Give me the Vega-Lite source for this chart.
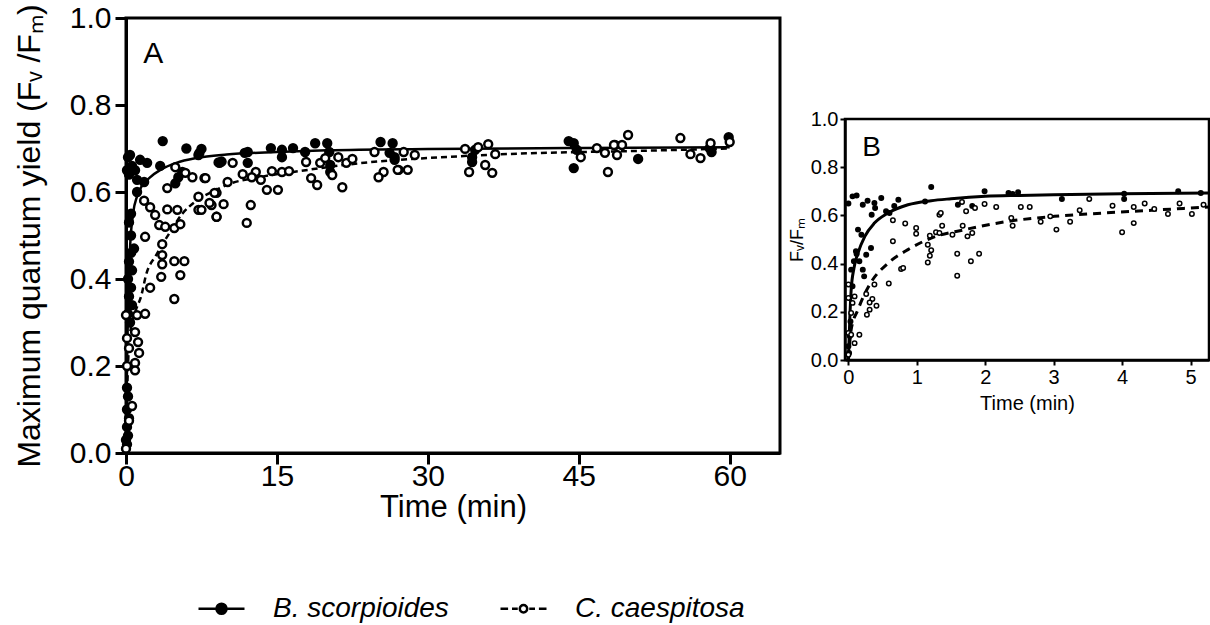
{
  "$schema": "https://vega.github.io/schema/vega-lite/v6.json",
  "padding": {"top": 1, "left": 11, "right": 0, "bottom": 5},
  "background": "white",
  "config": {
    "font": "Liberation Sans",
    "view": {"stroke": "black"},
    "axis": {"grid": false, "domainColor": "black", "tickColor": "black", "labelColor": "black", "titleColor": "black", "labelFont": "Liberation Sans", "titleFont": "Liberation Sans", "titleFontWeight": "normal"},
    "legend": {"title": null, "orient": "none", "legendX": 71, "legendY": 566, "direction": "horizontal", "padding": 0, "labelFont": "Liberation Sans", "labelFontSize": 28, "labelFontStyle": "italic", "labelColor": "black", "labelOffset": 27, "labelLimit": 500, "columnPadding": 46, "symbolSize": 2116, "symbolStrokeWidth": 2.5, "symbolOpacity": 1},
    "text": {"font": "Liberation Sans"}
  },
  "datasets": {
    "a_pts": [
      {"t":0.4,"v":0.685,"species":"B. scorpioides"},{"t":1.4,"v":0.674,"species":"B. scorpioides"},{"t":2.1,"v":0.667,"species":"B. scorpioides"},{"t":0.1,"v":0.65,"species":"B. scorpioides"},{"t":0.9,"v":0.65,"species":"B. scorpioides"},{"t":3.4,"v":0.66,"species":"B. scorpioides"},{"t":3.65,"v":0.717,"species":"B. scorpioides"},{"t":6.0,"v":0.70,"species":"B. scorpioides"},{"t":7.3,"v":0.69,"species":"B. scorpioides"},{"t":7.2,"v":0.685,"species":"B. scorpioides"},{"t":1.1,"v":0.628,"species":"B. scorpioides"},{"t":1.8,"v":0.623,"species":"B. scorpioides"},{"t":1.1,"v":0.60,"species":"B. scorpioides"},{"t":5.6,"v":0.646,"species":"B. scorpioides"},{"t":5.2,"v":0.634,"species":"B. scorpioides"},{"t":4.9,"v":0.62,"species":"B. scorpioides"},{"t":9.2,"v":0.668,"species":"B. scorpioides"},{"t":0.2,"v":0.68,"species":"B. scorpioides"},{"t":0.6,"v":0.66,"species":"B. scorpioides"},{"t":0.3,"v":0.64,"species":"B. scorpioides"},
      {"t":0.5,"v":0.55,"species":"B. scorpioides"},{"t":0.3,"v":0.53,"species":"B. scorpioides"},{"t":0.5,"v":0.5,"species":"B. scorpioides"},{"t":0.8,"v":0.47,"species":"B. scorpioides"},{"t":0.5,"v":0.46,"species":"B. scorpioides"},{"t":0.3,"v":0.44,"species":"B. scorpioides"},{"t":0.6,"v":0.42,"species":"B. scorpioides"},{"t":0.2,"v":0.40,"species":"B. scorpioides"},{"t":0.5,"v":0.38,"species":"B. scorpioides"},{"t":0.3,"v":0.36,"species":"B. scorpioides"},{"t":0.6,"v":0.34,"species":"B. scorpioides"},{"t":0.2,"v":0.32,"species":"B. scorpioides"},{"t":0.4,"v":0.30,"species":"B. scorpioides"},{"t":0.1,"v":0.15,"species":"B. scorpioides"},{"t":0.2,"v":0.13,"species":"B. scorpioides"},{"t":0.1,"v":0.10,"species":"B. scorpioides"},{"t":0.3,"v":0.08,"species":"B. scorpioides"},{"t":0.1,"v":0.06,"species":"B. scorpioides"},{"t":0.2,"v":0.04,"species":"B. scorpioides"},{"t":0.0,"v":0.03,"species":"B. scorpioides"},{"t":0.1,"v":0.02,"species":"B. scorpioides"},
      {"t":7.5,"v":0.699,"species":"B. scorpioides"},{"t":9.3,"v":0.667,"species":"B. scorpioides"},{"t":12.1,"v":0.692,"species":"B. scorpioides"},{"t":12.1,"v":0.667,"species":"B. scorpioides"},{"t":14.4,"v":0.701,"species":"B. scorpioides"},{"t":15.5,"v":0.697,"species":"B. scorpioides"},{"t":15.5,"v":0.68,"species":"B. scorpioides"},{"t":16.6,"v":0.701,"species":"B. scorpioides"},{"t":17.8,"v":0.692,"species":"B. scorpioides"},{"t":18.8,"v":0.712,"species":"B. scorpioides"},{"t":20.0,"v":0.712,"species":"B. scorpioides"},{"t":20.2,"v":0.692,"species":"B. scorpioides"},{"t":20.3,"v":0.662,"species":"B. scorpioides"},{"t":20.3,"v":0.646,"species":"B. scorpioides"},{"t":25.3,"v":0.715,"species":"B. scorpioides"},{"t":26.5,"v":0.712,"species":"B. scorpioides"},{"t":26.2,"v":0.69,"species":"B. scorpioides"},{"t":26.7,"v":0.674,"species":"B. scorpioides"},{"t":26.7,"v":0.68,"species":"B. scorpioides"},{"t":34.4,"v":0.68,"species":"B. scorpioides"},{"t":34.7,"v":0.697,"species":"B. scorpioides"},{"t":34.4,"v":0.669,"species":"B. scorpioides"},{"t":44.0,"v":0.717,"species":"B. scorpioides"},{"t":44.5,"v":0.712,"species":"B. scorpioides"},{"t":44.5,"v":0.655,"species":"B. scorpioides"},{"t":44.8,"v":0.697,"species":"B. scorpioides"},{"t":48.6,"v":0.708,"species":"B. scorpioides"},{"t":50.9,"v":0.676,"species":"B. scorpioides"},{"t":58.0,"v":0.701,"species":"B. scorpioides"},{"t":59.9,"v":0.726,"species":"B. scorpioides"},{"t":58.2,"v":0.692,"species":"B. scorpioides"},{"t":9.5,"v":0.67,"species":"B. scorpioides"},{"t":11.8,"v":0.69,"species":"B. scorpioides"},
      {"t":4.9,"v":0.657,"species":"C. caespitosa"},{"t":5.9,"v":0.644,"species":"C. caespitosa"},{"t":6.6,"v":0.634,"species":"C. caespitosa"},{"t":7.8,"v":0.632,"species":"C. caespitosa"},{"t":4.1,"v":0.609,"species":"C. caespitosa"},{"t":1.8,"v":0.58,"species":"C. caespitosa"},{"t":2.4,"v":0.565,"species":"C. caespitosa"},{"t":4.1,"v":0.56,"species":"C. caespitosa"},{"t":5.1,"v":0.559,"species":"C. caespitosa"},{"t":2.9,"v":0.547,"species":"C. caespitosa"},{"t":7.2,"v":0.589,"species":"C. caespitosa"},{"t":7.2,"v":0.559,"species":"C. caespitosa"},{"t":8.5,"v":0.57,"species":"C. caespitosa"},{"t":9.0,"v":0.598,"species":"C. caespitosa"},{"t":9.0,"v":0.543,"species":"C. caespitosa"},{"t":3.3,"v":0.524,"species":"C. caespitosa"},{"t":3.9,"v":0.52,"species":"C. caespitosa"},{"t":4.8,"v":0.517,"species":"C. caespitosa"},{"t":5.4,"v":0.526,"species":"C. caespitosa"},{"t":1.9,"v":0.497,"species":"C. caespitosa"},{"t":3.6,"v":0.48,"species":"C. caespitosa"},{"t":3.6,"v":0.455,"species":"C. caespitosa"},{"t":3.6,"v":0.434,"species":"C. caespitosa"},{"t":4.8,"v":0.441,"species":"C. caespitosa"},{"t":5.8,"v":0.441,"species":"C. caespitosa"},{"t":3.5,"v":0.405,"species":"C. caespitosa"},{"t":5.4,"v":0.409,"species":"C. caespitosa"},{"t":2.4,"v":0.38,"species":"C. caespitosa"},{"t":4.8,"v":0.354,"species":"C. caespitosa"},{"t":0.0,"v":0.317,"species":"C. caespitosa"},{"t":1.1,"v":0.317,"species":"C. caespitosa"},{"t":1.9,"v":0.32,"species":"C. caespitosa"},{"t":0.9,"v":0.278,"species":"C. caespitosa"},{"t":0.1,"v":0.264,"species":"C. caespitosa"},{"t":1.2,"v":0.255,"species":"C. caespitosa"},{"t":0.3,"v":0.241,"species":"C. caespitosa"},{"t":1.3,"v":0.23,"species":"C. caespitosa"},{"t":0.1,"v":0.2,"species":"C. caespitosa"},{"t":0.9,"v":0.207,"species":"C. caespitosa"},{"t":0.9,"v":0.19,"species":"C. caespitosa"},{"t":0.6,"v":0.108,"species":"C. caespitosa"},{"t":0.3,"v":0.074,"species":"C. caespitosa"},{"t":0.0,"v":0.01,"species":"C. caespitosa"},
      {"t":7.9,"v":0.632,"species":"C. caespitosa"},{"t":10.6,"v":0.667,"species":"C. caespitosa"},{"t":10.1,"v":0.623,"species":"C. caespitosa"},{"t":11.6,"v":0.641,"species":"C. caespitosa"},{"t":12.9,"v":0.646,"species":"C. caespitosa"},{"t":12.5,"v":0.634,"species":"C. caespitosa"},{"t":13.4,"v":0.628,"species":"C. caespitosa"},{"t":14.0,"v":0.605,"species":"C. caespitosa"},{"t":15.1,"v":0.605,"species":"C. caespitosa"},{"t":14.5,"v":0.648,"species":"C. caespitosa"},{"t":15.5,"v":0.646,"species":"C. caespitosa"},{"t":16.2,"v":0.648,"species":"C. caespitosa"},{"t":17.9,"v":0.669,"species":"C. caespitosa"},{"t":18.4,"v":0.632,"species":"C. caespitosa"},{"t":19.0,"v":0.616,"species":"C. caespitosa"},{"t":19.3,"v":0.667,"species":"C. caespitosa"},{"t":19.8,"v":0.678,"species":"C. caespitosa"},{"t":20.5,"v":0.639,"species":"C. caespitosa"},{"t":21.1,"v":0.68,"species":"C. caespitosa"},{"t":21.9,"v":0.667,"species":"C. caespitosa"},{"t":22.5,"v":0.676,"species":"C. caespitosa"},{"t":21.5,"v":0.611,"species":"C. caespitosa"},{"t":24.7,"v":0.692,"species":"C. caespitosa"},{"t":25.6,"v":0.646,"species":"C. caespitosa"},{"t":25.1,"v":0.634,"species":"C. caespitosa"},{"t":27.1,"v":0.651,"species":"C. caespitosa"},{"t":8.8,"v":0.598,"species":"C. caespitosa"},{"t":8.3,"v":0.575,"species":"C. caespitosa"},{"t":9.7,"v":0.572,"species":"C. caespitosa"},{"t":7.5,"v":0.559,"species":"C. caespitosa"},{"t":12.4,"v":0.57,"species":"C. caespitosa"},{"t":9.0,"v":0.543,"species":"C. caespitosa"},{"t":12.0,"v":0.529,"species":"C. caespitosa"},{"t":27.6,"v":0.692,"species":"C. caespitosa"},{"t":28.7,"v":0.685,"species":"C. caespitosa"},{"t":27.0,"v":0.651,"species":"C. caespitosa"},{"t":28.0,"v":0.651,"species":"C. caespitosa"},{"t":33.7,"v":0.699,"species":"C. caespitosa"},{"t":35.0,"v":0.703,"species":"C. caespitosa"},{"t":36.0,"v":0.71,"species":"C. caespitosa"},{"t":36.7,"v":0.687,"species":"C. caespitosa"},{"t":34.1,"v":0.646,"species":"C. caespitosa"},{"t":35.7,"v":0.662,"species":"C. caespitosa"},{"t":36.4,"v":0.644,"species":"C. caespitosa"},{"t":45.2,"v":0.68,"species":"C. caespitosa"},{"t":46.8,"v":0.701,"species":"C. caespitosa"},{"t":47.6,"v":0.69,"species":"C. caespitosa"},{"t":47.9,"v":0.646,"species":"C. caespitosa"},{"t":48.5,"v":0.708,"species":"C. caespitosa"},{"t":49.3,"v":0.708,"species":"C. caespitosa"},{"t":49.9,"v":0.731,"species":"C. caespitosa"},{"t":48.8,"v":0.685,"species":"C. caespitosa"},{"t":55.1,"v":0.724,"species":"C. caespitosa"},{"t":56.1,"v":0.687,"species":"C. caespitosa"},{"t":57.1,"v":0.678,"species":"C. caespitosa"},{"t":58.1,"v":0.712,"species":"C. caespitosa"},{"t":60.0,"v":0.715,"species":"C. caespitosa"}
    ],
    "a_fit": [
      {"t":0,"v":0,"species":"B. scorpioides"},{"t":0.1,"v":0.2,"species":"B. scorpioides"},{"t":0.2,"v":0.33,"species":"B. scorpioides"},{"t":0.4,"v":0.47,"species":"B. scorpioides"},{"t":0.7,"v":0.55,"species":"B. scorpioides"},{"t":1.1,"v":0.59,"species":"B. scorpioides"},{"t":1.6,"v":0.615,"species":"B. scorpioides"},{"t":2.3,"v":0.632,"species":"B. scorpioides"},{"t":3.5,"v":0.652,"species":"B. scorpioides"},{"t":5,"v":0.667,"species":"B. scorpioides"},{"t":7,"v":0.678,"species":"B. scorpioides"},{"t":10,"v":0.686,"species":"B. scorpioides"},{"t":15,"v":0.692,"species":"B. scorpioides"},{"t":20,"v":0.696,"species":"B. scorpioides"},{"t":30,"v":0.699,"species":"B. scorpioides"},{"t":45,"v":0.701,"species":"B. scorpioides"},{"t":60,"v":0.703,"species":"B. scorpioides"},
      {"t":0,"v":0.05,"species":"C. caespitosa"},{"t":0.3,"v":0.25,"species":"C. caespitosa"},{"t":0.6,"v":0.30,"species":"C. caespitosa"},{"t":1,"v":0.33,"species":"C. caespitosa"},{"t":1.5,"v":0.36,"species":"C. caespitosa"},{"t":2,"v":0.41,"species":"C. caespitosa"},{"t":3,"v":0.455,"species":"C. caespitosa"},{"t":4.3,"v":0.505,"species":"C. caespitosa"},{"t":5.6,"v":0.55,"species":"C. caespitosa"},{"t":7,"v":0.58,"species":"C. caespitosa"},{"t":8.8,"v":0.603,"species":"C. caespitosa"},{"t":10.2,"v":0.618,"species":"C. caespitosa"},{"t":13,"v":0.633,"species":"C. caespitosa"},{"t":17.2,"v":0.648,"species":"C. caespitosa"},{"t":24,"v":0.668,"species":"C. caespitosa"},{"t":30,"v":0.678,"species":"C. caespitosa"},{"t":40,"v":0.689,"species":"C. caespitosa"},{"t":50,"v":0.694,"species":"C. caespitosa"},{"t":60,"v":0.70,"species":"C. caespitosa"}
    ],
    "b_pts": [
      {"t":0,"v":0.649,"species":"B. scorpioides"},{"t":0.06,"v":0.679,"species":"B. scorpioides"},{"t":0.12,"v":0.683,"species":"B. scorpioides"},{"t":0.21,"v":0.644,"species":"B. scorpioides"},{"t":0.28,"v":0.661,"species":"B. scorpioides"},{"t":0.38,"v":0.651,"species":"B. scorpioides"},{"t":0.39,"v":0.631,"species":"B. scorpioides"},{"t":0.34,"v":0.603,"species":"B. scorpioides"},{"t":0.48,"v":0.672,"species":"B. scorpioides"},{"t":0.55,"v":0.617,"species":"B. scorpioides"},{"t":0.6,"v":0.61,"species":"B. scorpioides"},{"t":0.67,"v":0.639,"species":"B. scorpioides"},{"t":0.73,"v":0.665,"species":"B. scorpioides"},{"t":0.14,"v":0.541,"species":"B. scorpioides"},{"t":0.19,"v":0.52,"species":"B. scorpioides"},{"t":0.11,"v":0.451,"species":"B. scorpioides"},{"t":0.16,"v":0.41,"species":"B. scorpioides"},{"t":0.26,"v":0.437,"species":"B. scorpioides"},{"t":0.33,"v":0.465,"species":"B. scorpioides"},{"t":0.21,"v":0.375,"species":"B. scorpioides"},{"t":0.23,"v":0.347,"species":"B. scorpioides"},{"t":0.06,"v":0.306,"species":"B. scorpioides"},{"t":0.04,"v":0.375,"species":"B. scorpioides"},{"t":0,"v":0.057,"species":"B. scorpioides"},{"t":0.01,"v":0.029,"species":"B. scorpioides"},{"t":0.02,"v":0.1,"species":"B. scorpioides"},{"t":0.03,"v":0.16,"species":"B. scorpioides"},{"t":0.08,"v":0.41,"species":"B. scorpioides"},{"t":0.12,"v":0.44,"species":"B. scorpioides"},{"t":1.21,"v":0.718,"species":"B. scorpioides"},{"t":1.12,"v":0.658,"species":"B. scorpioides"},{"t":1.6,"v":0.644,"species":"B. scorpioides"},{"t":1.99,"v":0.7,"species":"B. scorpioides"},{"t":1.81,"v":0.639,"species":"B. scorpioides"},{"t":2.34,"v":0.693,"species":"B. scorpioides"},{"t":2.4,"v":0.689,"species":"B. scorpioides"},{"t":2.48,"v":0.696,"species":"B. scorpioides"},{"t":3.12,"v":0.668,"species":"B. scorpioides"},{"t":4.03,"v":0.668,"species":"B. scorpioides"},{"t":4.03,"v":0.69,"species":"B. scorpioides"},{"t":4.82,"v":0.7,"species":"B. scorpioides"},{"t":5.15,"v":0.693,"species":"B. scorpioides"},
      {"t":0,"v":0.313,"species":"C. caespitosa"},{"t":0,"v":0.257,"species":"C. caespitosa"},{"t":0.09,"v":0.264,"species":"C. caespitosa"},{"t":0.06,"v":0.237,"species":"C. caespitosa"},{"t":0.04,"v":0.195,"species":"C. caespitosa"},{"t":0,"v":0.112,"species":"C. caespitosa"},{"t":0.04,"v":0.105,"species":"C. caespitosa"},{"t":0.16,"v":0.105,"species":"C. caespitosa"},{"t":0.09,"v":0.07,"species":"C. caespitosa"},{"t":0,"v":0.022,"species":"C. caespitosa"},{"t":0.26,"v":0.274,"species":"C. caespitosa"},{"t":0.38,"v":0.313,"species":"C. caespitosa"},{"t":0.35,"v":0.253,"species":"C. caespitosa"},{"t":0.31,"v":0.239,"species":"C. caespitosa"},{"t":0.41,"v":0.225,"species":"C. caespitosa"},{"t":0.31,"v":0.209,"species":"C. caespitosa"},{"t":0.27,"v":0.188,"species":"C. caespitosa"},{"t":0.59,"v":0.317,"species":"C. caespitosa"},{"t":0.65,"v":0.58,"species":"C. caespitosa"},{"t":0.83,"v":0.566,"species":"C. caespitosa"},{"t":0.65,"v":0.493,"species":"C. caespitosa"},{"t":0.77,"v":0.378,"species":"C. caespitosa"},{"t":0.8,"v":0.382,"species":"C. caespitosa"},{"t":0.99,"v":0.548,"species":"C. caespitosa"},{"t":0.99,"v":0.524,"species":"C. caespitosa"},{"t":1.16,"v":0.478,"species":"C. caespitosa"},{"t":1.19,"v":0.516,"species":"C. caespitosa"},{"t":1.21,"v":0.455,"species":"C. caespitosa"},{"t":1.19,"v":0.433,"species":"C. caespitosa"},{"t":1.16,"v":0.405,"species":"C. caespitosa"},{"t":1.28,"v":0.53,"species":"C. caespitosa"},{"t":1.33,"v":0.527,"species":"C. caespitosa"},{"t":1.33,"v":0.603,"species":"C. caespitosa"},{"t":1.35,"v":0.61,"species":"C. caespitosa"},{"t":1.37,"v":0.557,"species":"C. caespitosa"},{"t":1.52,"v":0.52,"species":"C. caespitosa"},{"t":1.59,"v":0.441,"species":"C. caespitosa"},{"t":1.59,"v":0.35,"species":"C. caespitosa"},{"t":1.66,"v":0.656,"species":"C. caespitosa"},{"t":1.67,"v":0.557,"species":"C. caespitosa"},{"t":1.72,"v":0.617,"species":"C. caespitosa"},{"t":1.74,"v":0.513,"species":"C. caespitosa"},{"t":1.81,"v":0.527,"species":"C. caespitosa"},{"t":1.79,"v":0.41,"species":"C. caespitosa"},{"t":1.91,"v":0.441,"species":"C. caespitosa"},{"t":1.85,"v":0.631,"species":"C. caespitosa"},{"t":1.99,"v":0.647,"species":"C. caespitosa"},{"t":2.16,"v":0.635,"species":"C. caespitosa"},{"t":2.52,"v":0.635,"species":"C. caespitosa"},{"t":2.65,"v":0.635,"species":"C. caespitosa"},{"t":2.38,"v":0.589,"species":"C. caespitosa"},{"t":2.4,"v":0.557,"species":"C. caespitosa"},{"t":2.81,"v":0.574,"species":"C. caespitosa"},{"t":2.95,"v":0.596,"species":"C. caespitosa"},{"t":3.04,"v":0.541,"species":"C. caespitosa"},{"t":3.24,"v":0.574,"species":"C. caespitosa"},{"t":3.38,"v":0.621,"species":"C. caespitosa"},{"t":3.52,"v":0.668,"species":"C. caespitosa"},{"t":3.86,"v":0.64,"species":"C. caespitosa"},{"t":4.0,"v":0.53,"species":"C. caespitosa"},{"t":4.17,"v":0.635,"species":"C. caespitosa"},{"t":4.17,"v":0.568,"species":"C. caespitosa"},{"t":4.33,"v":0.649,"species":"C. caespitosa"},{"t":4.47,"v":0.627,"species":"C. caespitosa"},{"t":4.67,"v":0.606,"species":"C. caespitosa"},{"t":4.84,"v":0.649,"species":"C. caespitosa"},{"t":5.02,"v":0.606,"species":"C. caespitosa"},{"t":5.19,"v":0.644,"species":"C. caespitosa"}
    ],
    "b_fit": [
      {"t":0,"v":0,"species":"B. scorpioides"},{"t":0.02,"v":0.17,"species":"B. scorpioides"},{"t":0.04,"v":0.29,"species":"B. scorpioides"},{"t":0.08,"v":0.38,"species":"B. scorpioides"},{"t":0.14,"v":0.444,"species":"B. scorpioides"},{"t":0.24,"v":0.513,"species":"B. scorpioides"},{"t":0.38,"v":0.568,"species":"B. scorpioides"},{"t":0.58,"v":0.61,"species":"B. scorpioides"},{"t":0.87,"v":0.644,"species":"B. scorpioides"},{"t":1.21,"v":0.661,"species":"B. scorpioides"},{"t":1.5,"v":0.669,"species":"B. scorpioides"},{"t":2,"v":0.679,"species":"B. scorpioides"},{"t":2.5,"v":0.683,"species":"B. scorpioides"},{"t":3,"v":0.686,"species":"B. scorpioides"},{"t":4,"v":0.69,"species":"B. scorpioides"},{"t":5.27,"v":0.693,"species":"B. scorpioides"},
      {"t":0,"v":0,"species":"C. caespitosa"},{"t":0.04,"v":0.126,"species":"C. caespitosa"},{"t":0.14,"v":0.209,"species":"C. caespitosa"},{"t":0.31,"v":0.313,"species":"C. caespitosa"},{"t":0.58,"v":0.402,"species":"C. caespitosa"},{"t":0.87,"v":0.458,"species":"C. caespitosa"},{"t":1.21,"v":0.506,"species":"C. caespitosa"},{"t":1.7,"v":0.541,"species":"C. caespitosa"},{"t":2.33,"v":0.575,"species":"C. caespitosa"},{"t":3.01,"v":0.596,"species":"C. caespitosa"},{"t":3.74,"v":0.61,"species":"C. caespitosa"},{"t":4.47,"v":0.622,"species":"C. caespitosa"},{"t":5.27,"v":0.635,"species":"C. caespitosa"}
    ],
    "a_lab": [{"t":2.7,"v":0.917,"label":"A"}],
    "b_lab": [{"t":0.34,"v":0.88,"label":"B"}]
  },
  "spacing": 4,
  "hconcat": [
    {
      "width": 654,
      "height": 435,
      "view": {"stroke": "black", "strokeWidth": 3},
      "encoding": {
        "x": {"field": "t", "type": "quantitative", "scale": {"domain": [0, 65], "nice": false, "zero": false},
          "axis": {"values": [0, 15, 30, 45, 60], "title": "Time (min)", "titleFontSize": 31, "titlePadding": 1, "labelFontSize": 30, "labelPadding": -3, "tickSize": 11, "tickWidth": 3, "domainWidth": 3, "labelFlush": false}},
        "y": {"field": "v", "type": "quantitative", "scale": {"domain": [0, 1], "nice": false},
          "axis": {"values": [0, 0.2, 0.4, 0.6, 0.8, 1.0], "format": ".1f", "title": "Maximum quantum yield (Fᵥ /Fₘ)", "titleFontSize": 32, "titlePadding": 23, "labelFontSize": 30, "labelPadding": 4, "tickSize": 11, "tickWidth": 3, "domainWidth": 3, "labelFlush": false}}
      },
      "layer": [
        {
          "data": {"name": "a_fit"},
          "transform": [{"filter": "datum.species === 'B. scorpioides'"}],
          "mark": {"type": "line", "color": "black", "strokeWidth": 2.5, "interpolate": "monotone"},
          "encoding": {}
        },
        {
          "data": {"name": "a_fit"},
          "transform": [{"filter": "datum.species === 'C. caespitosa'"}],
          "mark": {"type": "line", "color": "black", "strokeWidth": 2.5, "strokeDash": [6, 4], "interpolate": "monotone"},
          "encoding": {}
        },
        {
          "data": {"name": "a_pts"},
          "transform": [{"filter": "datum.species === 'B. scorpioides'"}],
          "mark": {"type": "point", "shape": "circle", "size": 62, "fill": "black", "stroke": "black", "strokeWidth": 2.5, "opacity": 1, "filled": true}
        },
        {
          "data": {"name": "a_pts"},
          "transform": [{"filter": "datum.species === 'C. caespitosa'"}],
          "mark": {"type": "point", "shape": "circle", "size": 62, "fill": "white", "stroke": "black", "strokeWidth": 2.5, "opacity": 1, "filled": true}
        },
        {
          "data": {"name": "a_pts"},
          "transform": [{"filter": "datum.t < 0"}],
          "mark": {"type": "point", "strokeWidth": 2.5, "opacity": 1, "filled": true},
          "encoding": {
            "fill": {"field": "species", "type": "nominal", "scale": {"domain": ["B. scorpioides", "C. caespitosa"], "range": ["black", "white"]}, "legend": {}},
            "stroke": {"field": "species", "type": "nominal", "scale": {"domain": ["B. scorpioides", "C. caespitosa"], "range": ["black", "black"]}, "legend": {}},
            "shape": {"field": "species", "type": "nominal", "scale": {"domain": ["B. scorpioides", "C. caespitosa"], "range": ["M-1,0H1M-0.22,0A0.22,0.22,0,1,0,0.22,0A0.22,0.22,0,1,0,-0.22,0Z", "M-1,0H-0.67M-0.5,0H-0.25M0.25,0H0.5M0.67,0H1M-0.16,0A0.16,0.16,0,1,0,0.16,0A0.16,0.16,0,1,0,-0.16,0Z"]}, "legend": {}}
          }
        },
        {
          "data": {"name": "a_lab"},
          "mark": {"type": "text", "fontSize": 30, "color": "black", "align": "center", "baseline": "middle"},
          "encoding": {"text": {"field": "label"}}
        }
      ]
    },
    {
      "spacing": 0,
      "vconcat": [
        {
          "width": 10,
          "height": 89,
          "view": {"stroke": null},
          "data": {"values": []},
          "mark": {"type": "point", "opacity": 0},
          "encoding": {}
        },
        {
          "width": 364,
          "height": 241,
          "view": {"stroke": "black", "strokeWidth": 2.5},
          "encoding": {
            "x": {"field": "t", "type": "quantitative", "scale": {"domain": [-0.05, 5.27], "nice": false, "zero": false},
              "axis": {"values": [0, 1, 2, 3, 4, 5], "title": "Time (min)", "titleFontSize": 20, "titlePadding": 6, "labelFontSize": 20, "labelPadding": 2, "tickSize": 5, "tickWidth": 2, "domainWidth": 2.5, "labelFlush": false}},
            "y": {"field": "v", "type": "quantitative", "scale": {"domain": [0, 1], "nice": false},
              "axis": {"values": [0, 0.2, 0.4, 0.6, 0.8, 1.0], "format": ".1f", "title": "Fᵥ/Fₘ", "titleFontSize": 18, "titlePadding": 4, "labelFontSize": 20, "labelPadding": 2, "tickSize": 5, "tickWidth": 2, "domainWidth": 2.5, "labelFlush": false}}
          },
          "layer": [
            {
              "data": {"name": "b_fit"},
              "transform": [{"filter": "datum.species === 'B. scorpioides'"}],
              "mark": {"type": "line", "color": "black", "strokeWidth": 3, "interpolate": "monotone"},
              "encoding": {}
            },
            {
              "data": {"name": "b_fit"},
              "transform": [{"filter": "datum.species === 'C. caespitosa'"}],
              "mark": {"type": "line", "color": "black", "strokeWidth": 3, "strokeDash": [8, 6], "interpolate": "monotone"},
              "encoding": {}
            },
            {
              "data": {"name": "b_pts"},
              "transform": [{"filter": "datum.species === 'B. scorpioides'"}],
              "mark": {"type": "point", "shape": "circle", "size": 20, "fill": "black", "stroke": "black", "strokeWidth": 1.5, "opacity": 1, "filled": true}
            },
            {
              "data": {"name": "b_pts"},
              "transform": [{"filter": "datum.species === 'C. caespitosa'"}],
              "mark": {"type": "point", "shape": "circle", "size": 20, "fill": "white", "stroke": "black", "strokeWidth": 1.5, "opacity": 1, "filled": true}
            },
            {
              "data": {"name": "b_lab"},
              "mark": {"type": "text", "fontSize": 28, "color": "black", "align": "center", "baseline": "middle"},
              "encoding": {"text": {"field": "label"}}
            }
          ]
        }
      ]
    }
  ]
}
